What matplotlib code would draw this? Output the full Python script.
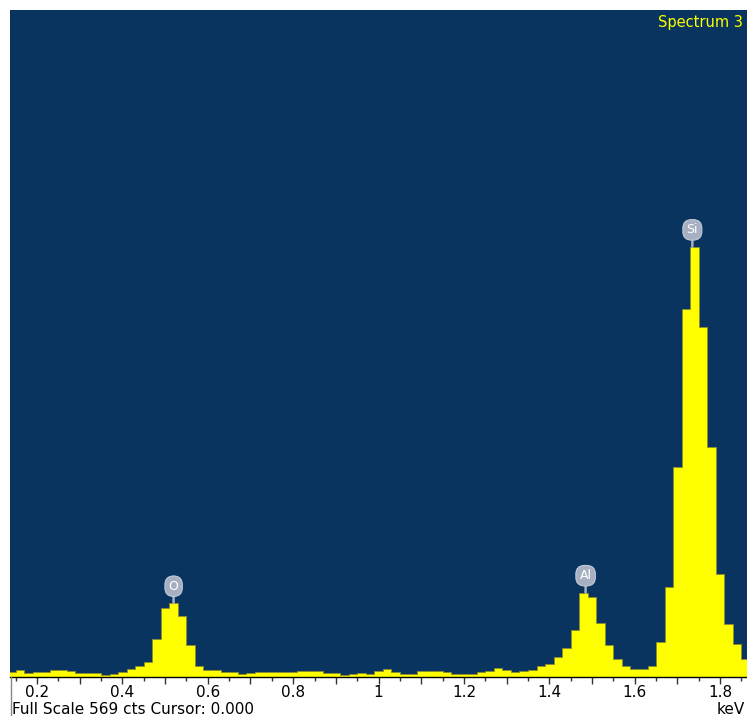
import matplotlib.pyplot as plt
import numpy as np
from matplotlib.lines import Line2D
from matplotlib.ticker import MultipleLocator

plt.rcParams['font.family'] = ['DejaVu Sans']

# EDS spectrum, 20 eV channels starting at 0.14 keV
counts = [
    4, 6, 3.5, 4, 4.5, 6, 6, 5, 3, 3,
    3, 2, 2.5, 4, 7, 9, 13, 32, 59, 63,
    52, 27, 9, 6, 6, 4, 4, 2.5, 3, 4,
    4, 4, 4, 4, 5, 5, 5, 3.5, 3.5, 1.5,
    2.5, 3.5, 2.5, 5, 7, 4, 2.5, 2.5, 5, 5,
    5, 4, 2.5, 2.5, 2.5, 4, 5, 8, 6, 4.3,
    5, 6, 9, 11, 17, 25, 40, 72, 68, 46,
    27, 15, 9, 7, 7, 9, 30, 77, 179, 314,
    367, 299, 196, 88, 45, 28, 15,
]
channel_width = 0.02
first_channel = 0.14

# element markers: name, line energy (keV)
elements = ['O', 'Al', 'Si']
element_kev = [0.52, 1.485, 1.735]

full_scale = 569
tick_values = [0.2, 0.4, 0.6, 0.8, 1.0, 1.2, 1.4, 1.6, 1.8]
tick_labels = ['0.2', '0.4', '0.6', '0.8', '1', '1.2', '1.4', '1.6', '1.8']

bg = '#08345f'
yellow = '#ffff00'

counts = np.array(counts)
edges = first_channel - channel_width / 2 + channel_width * np.arange(len(counts) + 1)

W, H = 747, 716
fig = plt.figure(figsize=(W / 100, H / 100), dpi=100)
ax = fig.add_axes([10 / W, 39 / H, 737 / W, 667 / H])
ax.set_facecolor(bg)

ax.stairs(counts, edges, fill=True, facecolor=yellow, edgecolor='#8c8c30',
          linewidth=0.6, baseline=0)

ax.set_xlim(0.1368, 1.863)
ax.set_ylim(0, full_scale)

# peak labels sitting on a short stem above each peak
centers = (edges[:-1] + edges[1:]) / 2
for name, e in zip(elements, element_kev):
    i = np.argmin(np.abs(centers - e))
    top = counts[max(i - 1, 0):i + 2].max()
    ax.annotate(name, xy=(e, top), xytext=(0, 7.5), textcoords='offset points',
                ha='center', va='bottom', color='white', fontsize=9,
                bbox=dict(boxstyle='round,pad=0.3,rounding_size=0.7',
                          facecolor='#a7b0c2', edgecolor='#c3cad6', linewidth=0.8),
                arrowprops=dict(arrowstyle='-', color='#a7b0c2', linewidth=1.8,
                                shrinkA=0, shrinkB=0))

ax.text(0.994, 0.992, 'Spectrum 3', transform=ax.transAxes, ha='right', va='top',
        color=yellow, fontsize=10.5)

# axis ticks every 0.05 keV, longer every 0.1
ax.xaxis.set_major_locator(MultipleLocator(0.1))
ax.xaxis.set_minor_locator(MultipleLocator(0.05))
ax.tick_params(axis='x', which='major', length=5, width=1, color='#333333',
               direction='out')
ax.tick_params(axis='x', which='minor', length=3, width=1, color='#333333',
               direction='out')
ax.set_xticklabels([])
for v, lab in zip(tick_values, tick_labels):
    ax.text(v, -0.023, lab, transform=ax.get_xaxis_transform(), ha='center',
            va='center', fontsize=11, color='black')
ax.set_yticks([])

for s in ['top', 'right', 'left']:
    ax.spines[s].set_visible(False)
ax.spines['bottom'].set_color('black')
ax.spines['bottom'].set_linewidth(1)

fig.add_artist(Line2D([11 / W, 11 / W], [0, 39 / H], color='#888888', linewidth=1))
fig.text(12 / W, 1 - 709 / H, 'Full Scale 569 cts Cursor: 0.000', ha='left',
         va='center', fontsize=11, color='black')
fig.text(745 / W, 1 - 709 / H, 'keV', ha='right', va='center', fontsize=11,
         color='black')

plt.savefig('out.png', dpi=100)
